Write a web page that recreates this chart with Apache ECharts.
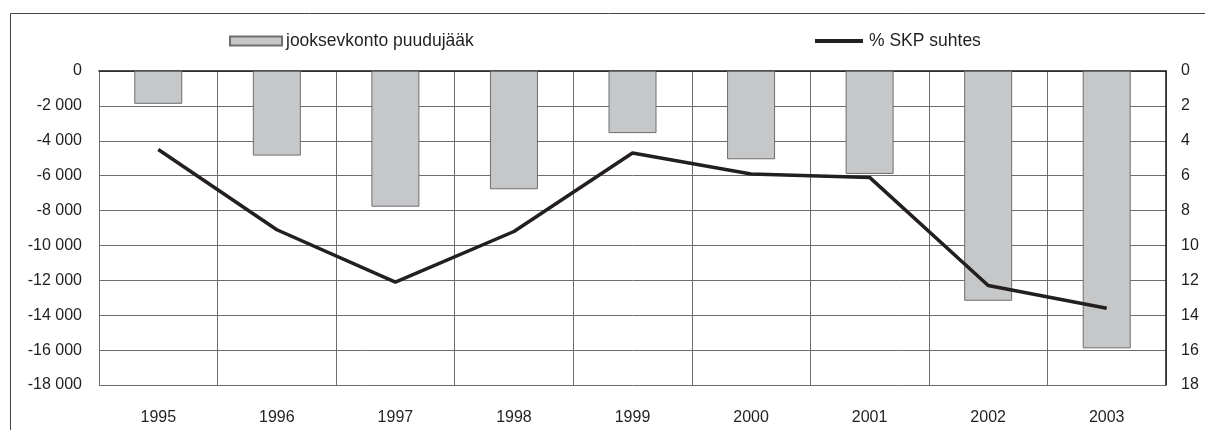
<!DOCTYPE html>
<html>
<head>
<meta charset="utf-8">
<script src="https://cdn.jsdelivr.net/npm/echarts@6/dist/echarts.min.js"></script>
<style>
  html, body { margin: 0; padding: 0; background: #fff; }
  #chart { width: 1205px; height: 430px; }
</style>
</head>
<body>
<div id="chart"></div>
<script>
// years on the x axis
var years = ['1995', '1996', '1997', '1998', '1999', '2000', '2001', '2002', '2003'];
// current account deficit (left axis)
var deficit = [-1880, -4850, -7780, -6780, -3560, -5060, -5900, -13170, -15900];
// % of GDP (right axis, inverted)
var pctGdp = [4.5, 9.1, 12.1, 9.2, 4.7, 5.9, 6.1, 12.3, 13.6];

// format with a space as thousands separator, like "-18 000"
function fmt(v) {
  var s = Math.abs(v).toString().replace(/\B(?=(\d{3})+(?!\d))/g, ' ');
  return (v < 0 ? '-' : '') + s;
}

var textColor = '#231f20';
var font = 'Liberation Sans, Arial, sans-serif';

var chart = echarts.init(document.getElementById('chart'));

var option = {
  animation: false,
  textStyle: { fontFamily: font, color: textColor },
  graphic: [{
    type: 'rect',
    shape: { x: 10.5, y: 13.5, width: 1220, height: 500 },
    style: { fill: 'none', stroke: '#444', lineWidth: 1 },
    silent: true
  }],
  legend: [
    {
      left: 224, top: 27,
      itemWidth: 52, itemHeight: 9, itemGap: 0,
      icon: 'rect',
      textStyle: { fontSize: 17.5, color: textColor, fontFamily: font, padding: [0, 0, 0, -1] },
      data: ['jooksevkonto puudujääk']
    },
    {
      left: 810, top: 27,
      itemWidth: 48, itemHeight: 4,
      textStyle: { fontSize: 17.5, color: textColor, fontFamily: font, padding: [0, 0, 0, 1] },
      data: [{ name: '% SKP suhtes', icon: 'rect', itemStyle: { color: '#231f20' } }]
    }
  ],
  grid: { left: 99, right: 39, top: 71, bottom: 45 },
  xAxis: {
    type: 'category',
    data: years,
    boundaryGap: true,
    axisTick: { show: false },
    axisLine: { lineStyle: { color: '#1a1a1a', width: 1.5 } },
    axisLabel: { fontSize: 16, color: textColor, margin: 25, fontFamily: font },
    splitLine: { show: true, lineStyle: { color: '#6d6d6d', width: 1 } }
  },
  yAxis: [
    {
      type: 'value',
      min: -18000, max: 0, interval: 2000,
      axisLine: { show: true, lineStyle: { color: '#6d6d6d' } },
      axisTick: { show: false },
      axisLabel: { fontSize: 16, color: textColor, margin: 17, formatter: fmt, fontFamily: font },
      splitLine: { show: true, lineStyle: { color: '#6d6d6d', width: 1 } }
    },
    {
      type: 'value',
      inverse: true,
      min: 0, max: 18, interval: 2,
      position: 'right',
      axisLine: { show: true, lineStyle: { color: '#1a1a1a', width: 1.5 } },
      axisTick: { show: false },
      axisLabel: { fontSize: 16, color: textColor, margin: 15, fontFamily: font },
      splitLine: { show: false }
    }
  ],
  series: [
    {
      name: 'jooksevkonto puudujääk',
      type: 'bar',
      data: deficit,
      barWidth: 48,
      itemStyle: { color: '#c6c7c9', borderColor: '#6d6e70', borderWidth: 1 }
    },
    {
      name: '% SKP suhtes',
      type: 'line',
      yAxisIndex: 1,
      data: pctGdp,
      showSymbol: false,
      symbol: 'none',
      lineStyle: { color: '#231f20', width: 3.5 },
      itemStyle: { color: '#231f20' }
    }
  ]
};

chart.setOption(option);
</script>
</body>
</html>
